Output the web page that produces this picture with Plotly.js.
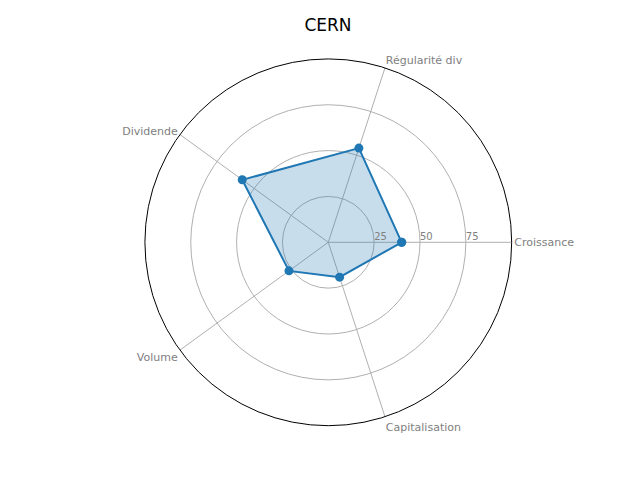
<!DOCTYPE html>
<html>
<head>
<meta charset="utf-8">
<script src="https://cdn.plot.ly/plotly-3.0.1.min.js"></script>
<style>html,body{margin:0;padding:0;background:#fff}#chart{width:640px;height:480px}</style>
</head>
<body>
<div id="chart"></div>
<script>
// Radar chart for CERN scores
var categories = ['Croissance', 'Régularité div', 'Dividende', 'Volume', 'Capitalisation'];
var scores = [40, 54, 58, 26.5, 20];
var radialTicks = [25, 50, 75];

var theta = categories.concat([categories[0]]);
var r = scores.concat([scores[0]]);

var trace = {
  type: 'scatterpolar',
  r: r,
  theta: theta,
  mode: 'lines+markers',
  fill: 'toself',
  fillcolor: 'rgba(31,119,180,0.25)',
  line: { color: '#1f77b4', width: 2 },
  marker: { color: '#1f77b4', size: 9 },
  hoverinfo: 'theta+r'
};

var layout = {
  width: 640,
  height: 480,
  margin: { l: 0, r: 0, t: 0, b: 0 },
  showlegend: false,
  paper_bgcolor: '#fff',
  font: { family: 'DejaVu Sans', color: '#808080' },
  title: { text: 'CERN', x: 0.5125, xanchor: 'center', y: 0.948, yanchor: 'middle',
           font: { family: 'DejaVu Sans', size: 17, color: '#000' } },
  polar: {
    domain: { x: [0.2264, 0.7995], y: [0.1131, 0.8773] },
    bgcolor: '#fff',
    radialaxis: {
      range: [0, 100],
      tickvals: radialTicks,
      ticktext: radialTicks.map(function(v) { return '\u00a0\u00a0\u00a0\u00a0' + v; }),
      ticks: '',
      angle: 0,
      side: 'counterclockwise',
      showline: false,
      gridcolor: '#b0b0b0',
      gridwidth: 1,
      tickfont: { size: 10, color: '#808080' }
    },
    angularaxis: {
      direction: 'counterclockwise',
      rotation: 0,
      showline: true,
      linecolor: '#000',
      linewidth: 1,
      gridcolor: '#b0b0b0',
      ticks: '',
      tickfont: { size: 11, color: '#808080' }
    }
  }
};

Plotly.newPlot('chart', [trace], layout, { displayModeBar: false });
</script>
</body>
</html>
